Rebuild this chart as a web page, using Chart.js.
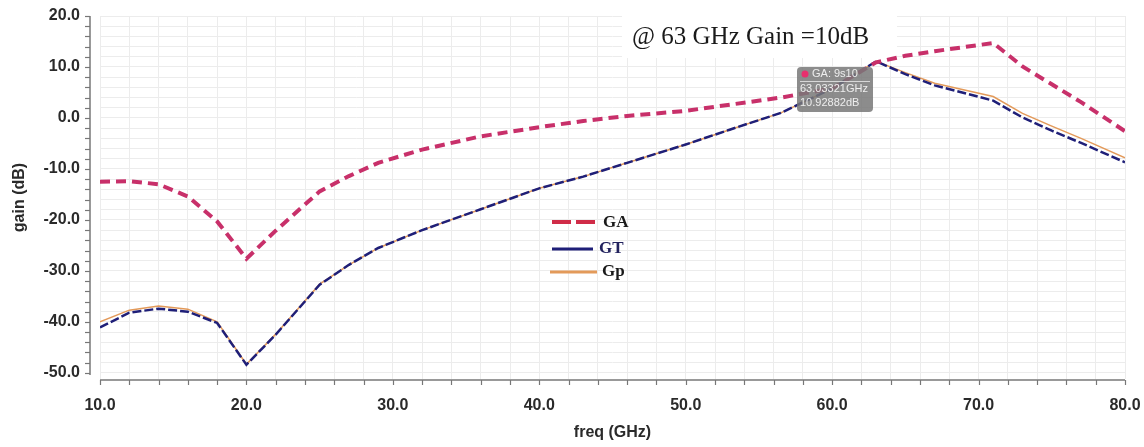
<!DOCTYPE html>
<html>
<head>
<meta charset="utf-8">
<script src="https://cdn.jsdelivr.net/npm/chart.js@4.4.0/dist/chart.umd.min.js"></script>
<style>
html,body{margin:0;padding:0;background:#fff;}
</style>
</head>
<body>
<canvas id="grafico" width="1144" height="447"></canvas>
<script>
// frecuencias (GHz) y ganancias (dB)
const freq     = [10, 12, 14, 16, 18, 20, 22, 25, 27, 29, 32, 36, 40, 43, 46, 50, 53, 56.5, 60, 63, 65, 67, 71, 73, 75, 77, 80];
const gaValues = [-12.5, -12.4, -13.0, -15.4, -20.3, -27.6, -22.1, -14.4, -11.4, -8.8, -6.2, -3.6, -1.8, -0.6, 0.4, 1.4, 2.6, 4.0, 5.8, 10.9, 12.2, 13.1, 14.7, 10.1, 6.6, 3.1, -2.6];
const gtValues = [-41.1, -38.2, -37.4, -38.0, -40.2, -48.4, -42.5, -32.7, -28.8, -25.5, -22.0, -17.9, -13.8, -11.5, -8.8, -5.2, -2.3, 1.0, 5.8, 11.1, 8.6, 6.4, 3.4, 0.1, -2.5, -4.9, -8.7];
const gpValues = [-40.0, -37.7, -36.9, -37.5, -40.0, -48.3, -42.4, -32.6, -28.8, -25.5, -22.0, -17.9, -13.8, -11.5, -8.8, -5.2, -2.3, 1.0, 5.8, 11.1, 8.9, 6.8, 4.2, 0.9, -1.6, -4.0, -7.8];

const xTickLabels = [10, 20, 30, 40, 50, 60, 70, 80];
const yTickLabels = [-50, -40, -30, -20, -10, 0, 10, 20];
const seriesNames = ["GA", "GT", "Gp"];
const anotacion = "@ 63 GHz Gain =10dB";
const tooltipLines = ["GA: 9s10", "63.03321GHz", "10.92882dB"];

const colGA = "#c8306a", colGT = "#1f1f78", colGp = "#e39a5a";

function toPoints(xs, ys){
    return xs.map((x, i) => ({x: x, y: ys[i]}));
}
function minorTicks(list, step){
    const out = [];
    for (let v = list[0]; v <= list[list.length - 1]; v += step) out.push({value: v});
    return out;
}

// ejes desplazados como en el original
const ejes = {
    id: "ejes",
    beforeDatasetsDraw(chart){
        const c = chart.ctx;
        // caja blanca de la anotacion
        c.save();
        c.fillStyle = "#fff";
        c.fillRect(622, 10, 275, 48);
        c.fillStyle = "#1a1a1a";
        c.font = "25px 'Liberation Serif', 'Times New Roman', serif";
        c.textBaseline = "alphabetic";
        c.fillText(anotacion, 632, 44);
        c.restore();
    },
    afterDatasetsDraw(chart){
        const c = chart.ctx;
        // tooltip gris
        c.save();
        c.fillStyle = "rgba(120,120,120,0.85)";
        c.beginPath();
        c.roundRect(797, 67, 76, 45, 4);
        c.fill();
        c.fillStyle = "#e8306e";
        c.beginPath();
        c.arc(805, 74, 3.5, 0, Math.PI * 2);
        c.fill();
        c.strokeStyle = "rgba(235,235,235,0.8)";
        c.lineWidth = 1;
        c.beginPath();
        c.moveTo(800, 81.5); c.lineTo(870, 81.5);
        c.stroke();
        c.fillStyle = "#eeeeee";
        c.font = "11px 'Liberation Sans', Arial, sans-serif";
        c.textBaseline = "middle";
        c.fillText(tooltipLines[0], 812, 74);
        c.fillText(tooltipLines[1], 800, 89);
        c.fillText(tooltipLines[2], 800, 103);
        c.restore();
    },
    afterDraw(chart){
        const c = chart.ctx, a = chart.chartArea;
        const xs = chart.scales.x, ys = chart.scales.y;
        c.save();
        c.strokeStyle = "#777";
        c.lineWidth = 1.5;
        // eje y
        const yx = a.left - 10;
        c.beginPath();
        c.moveTo(yx, ys.getPixelForValue(yTickLabels[yTickLabels.length - 1]));
        c.lineTo(yx, a.bottom - 4);
        c.stroke();
        c.lineWidth = 1.2;
        ys.ticks.forEach(t => {
            const p = Math.round(ys.getPixelForValue(t.value)) + 0.5;
            c.beginPath(); c.moveTo(yx - 5, p); c.lineTo(yx, p); c.stroke();
        });
        // eje x
        c.lineWidth = 1.5;
        const xy = a.bottom + 1;
        c.beginPath();
        c.moveTo(a.left, xy); c.lineTo(a.right, xy);
        c.stroke();
        c.lineWidth = 1.2;
        xs.ticks.forEach(t => {
            const p = Math.round(xs.getPixelForValue(t.value)) + 0.5;
            c.beginPath(); c.moveTo(p, xy); c.lineTo(p, xy + 5); c.stroke();
        });

        // leyenda
        const lx = 552, ly = [222, 249, 272];
        c.lineWidth = 4;
        c.strokeStyle = "#d02c48";
        c.setLineDash([19, 5]);
        c.beginPath(); c.moveTo(lx, ly[0]); c.lineTo(lx + 46, ly[0]); c.stroke();
        c.setLineDash([]);
        c.lineWidth = 3;
        c.strokeStyle = colGT;
        c.beginPath(); c.moveTo(lx, ly[1]); c.lineTo(lx + 41, ly[1]); c.stroke();
        c.strokeStyle = colGp;
        c.beginPath(); c.moveTo(lx - 2, ly[2]); c.lineTo(lx + 45, ly[2]); c.stroke();
        c.font = "bold 17px 'Liberation Serif', 'Times New Roman', serif";
        c.textBaseline = "middle";
        c.fillStyle = "#1a1a1a";
        c.fillText(seriesNames[0], 603, ly[0] + 1);
        c.fillStyle = "#22225e";
        c.fillText(seriesNames[1], 599, ly[1]);
        c.fillStyle = "#1a1a1a";
        c.fillText(seriesNames[2], 602, ly[2]);
        c.restore();
    }
};

const ctx = document.getElementById("grafico").getContext("2d");
const tickFont = {family: "'Liberation Sans', Arial, sans-serif", size: 16, weight: "bold"};

const myChart = new Chart(ctx, {
    type: "line",
    data: {
        datasets: [
            {
                label: seriesNames[0],
                data: toPoints(freq, gaValues),
                borderColor: colGA,
                borderWidth: 4,
                borderDash: [10, 6],
                pointRadius: 0,
                tension: 0,
                order: 1
            },
            {
                label: seriesNames[1],
                data: toPoints(freq, gtValues),
                borderColor: colGT,
                borderWidth: 2.5,
                borderDash: [9, 3],
                pointRadius: 0,
                tension: 0,
                order: 2
            },
            {
                label: seriesNames[2],
                data: toPoints(freq, gpValues),
                borderColor: colGp,
                borderWidth: 1.5,
                pointRadius: 0,
                tension: 0,
                order: 3
            }
        ]
    },
    options: {
        responsive: false,
        animation: false,
        layout: {padding: {top: 16, right: 19, bottom: 0, left: 0}},
        plugins: {
            legend: {display: false},
            tooltip: {enabled: false}
        },
        scales: {
            x: {
                type: "linear",
                min: 10,
                max: 80,
                afterBuildTicks: s => { s.ticks = minorTicks(xTickLabels, 2); },
                afterFit: s => { s.height = 68; s.paddingLeft = 0; s.paddingRight = 0; },
                border: {display: false},
                grid: {color: "#ececec", lineWidth: 1, drawTicks: false},
                ticks: {
                    autoSkip: false,
                    maxRotation: 0,
                    padding: 17,
                    color: "#2a2a2a",
                    font: tickFont,
                    callback: v => xTickLabels.includes(v) ? v.toFixed(1) : ""
                },
                title: {
                    display: true,
                    text: "freq (GHz)",
                    color: "#2a2a2a",
                    font: tickFont,
                    padding: {top: 0, bottom: 5}
                }
            },
            y: {
                min: -51.2,
                max: 20,
                afterBuildTicks: s => { s.ticks = minorTicks(yTickLabels, 2); },
                afterFit: s => { s.width = 100; s.paddingTop = 0; s.paddingBottom = 0; },
                border: {display: false},
                grid: {color: "#ececec", lineWidth: 1, drawTicks: false},
                ticks: {
                    autoSkip: false,
                    padding: 20,
                    color: "#2a2a2a",
                    font: tickFont,
                    callback: v => yTickLabels.includes(v) ? v.toFixed(1) : ""
                },
                title: {
                    display: true,
                    text: "gain (dB)",
                    color: "#2a2a2a",
                    font: tickFont,
                    padding: {top: 10, bottom: 0}
                }
            }
        }
    },
    plugins: [ejes]
});
</script>
</body>
</html>
